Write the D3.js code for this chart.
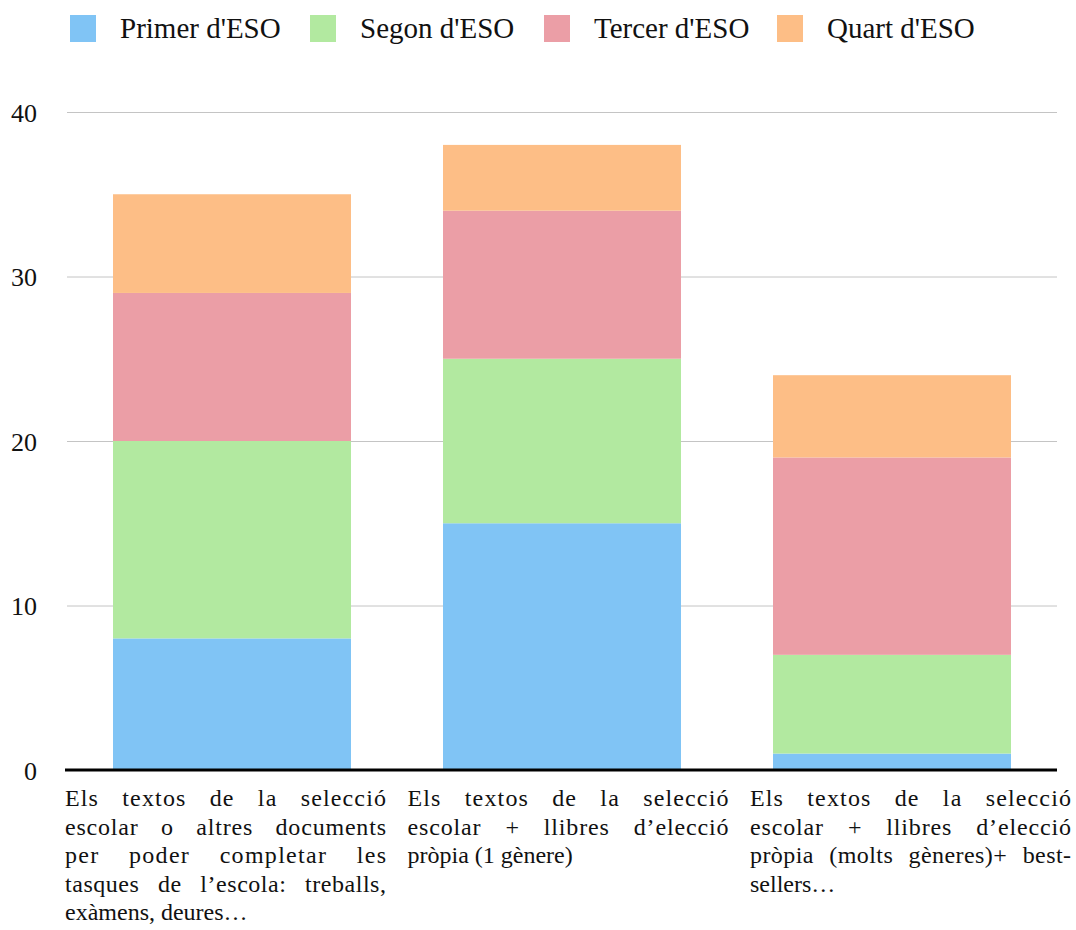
<!DOCTYPE html>
<html><head><meta charset="utf-8">
<script src="https://cdn.jsdelivr.net/npm/d3@7"></script>
<style>body{margin:0;background:#fff;} svg{display:block;} .sf{font-family:"Liberation Serif","Times New Roman",Tinos,"DejaVu Serif",serif;}</style>
</head><body>
<script>
const categories = ["cat1","cat2","cat3"];
const categoryLines = [
  ["Els textos de la selecció","escolar o altres documents","per poder completar les","tasques de l’escola: treballs,","exàmens, deures…"],
  ["Els textos de la selecció","escolar + llibres d’elecció","pròpia (1 gènere)"],
  ["Els textos de la selecció","escolar + llibres d’elecció","pròpia (molts gèneres)+ best-","sellers…"]
];
const seriesNames = ["Primer d'ESO","Segon d'ESO","Tercer d'ESO","Quart d'ESO"];
const primer = [8,15,1];
const segon = [12,10,6];
const tercer = [9,9,12];
const quart = [6,4,5];
const seriesColors = ["#80c4f5","#b2e9a0","#eb9ea6","#fdbe86"];
const yTicks = [0,10,20,30,40];

const W=1076,H=930;
const svg = d3.select("body").append("svg").attr("width",W).attr("height",H);

const x = d3.scaleBand().domain(categories).range([67,1057]).paddingInner(0.2788).paddingOuter(0.1394);
const y = d3.scaleLinear().domain([0,40]).range([770,112]);

// gridlines
svg.append("g").selectAll("line").data(yTicks.filter(d=>d>0)).join("line")
  .attr("x1",67).attr("x2",1057).attr("y1",d=>y(d)+0.5).attr("y2",d=>y(d)+0.5)
  .attr("stroke","#c4c4c4").attr("stroke-width",1);

// y axis labels
const yAxis = d3.axisLeft(y).tickValues(yTicks).tickSize(0).tickPadding(0);
const ga = svg.append("g").attr("transform","translate(37,0)").call(yAxis);
ga.attr("font-family",null).attr("font-size",null);
ga.select(".domain").remove();
ga.selectAll("text").attr("class","sf").style("font-size","26px").attr("fill","#111").attr("dy","0.35em");

// stacks
const table = categories.map((c,i)=>({cat:c, s0:primer[i], s1:segon[i], s2:tercer[i], s3:quart[i]}));
const stack = d3.stack().keys(["s0","s1","s2","s3"])(table);
svg.append("g").selectAll("g").data(stack).join("g").attr("fill",(d,i)=>seriesColors[i])
  .selectAll("rect").data(d=>d).join("rect")
  .attr("x",d=>x(d.data.cat)).attr("width",x.bandwidth())
  .attr("y",d=>y(d[1])).attr("height",d=>y(d[0])-y(d[1]));

// baseline
svg.append("line").attr("x1",65).attr("x2",1057).attr("y1",y(0)).attr("y2",y(0))
  .attr("stroke","#000").attr("stroke-width",3);

// legend
const legX = [70,310,544,777];
const lg = svg.append("g").selectAll("g").data(seriesNames).join("g")
  .attr("transform",(d,i)=>`translate(${legX[i]},15)`);
lg.append("rect").attr("width",26).attr("height",27).attr("fill",(d,i)=>seriesColors[i]);
lg.append("text").attr("class","sf").attr("x",50).attr("y",23).style("font-size","29px")
  .attr("fill","#111").text(d=>d);

// category labels (justified)
const boxW = 321, lineH = 28.5;
categoryLines.forEach((lines,ci)=>{
  const x0 = 65 + ci*342.5;
  lines.forEach((ln,li)=>{
    const t = svg.append("text").attr("class","sf").attr("x",x0).attr("y",806+li*lineH)
      .style("font-size","24px").attr("fill","#111")
      .style("white-space","pre").text(ln);
    if(li<lines.length-1){
      const nat = t.node().getComputedTextLength();
      const spaces = (ln.match(/ /g)||[]).length;
      const extra = boxW-nat;
      const chars = ln.length-1;
      const ls = Math.min(extra*0.3/chars, 3);
      const rem = extra - ls*chars;
      t.style("letter-spacing",ls+"px");
      if(spaces>0) t.style("word-spacing",(rem/spaces)+"px");
    }
  });
});

// cut-off page number (partially visible at bottom edge, as in the reference)
svg.append("text").attr("x",568).attr("y",952).attr("text-anchor","middle")
  .attr("font-family","'Liberation Sans',Arial,sans-serif").attr("font-size",32).attr("font-weight","bold")
  .attr("fill","#111").text("58");
</script>
</body></html>
